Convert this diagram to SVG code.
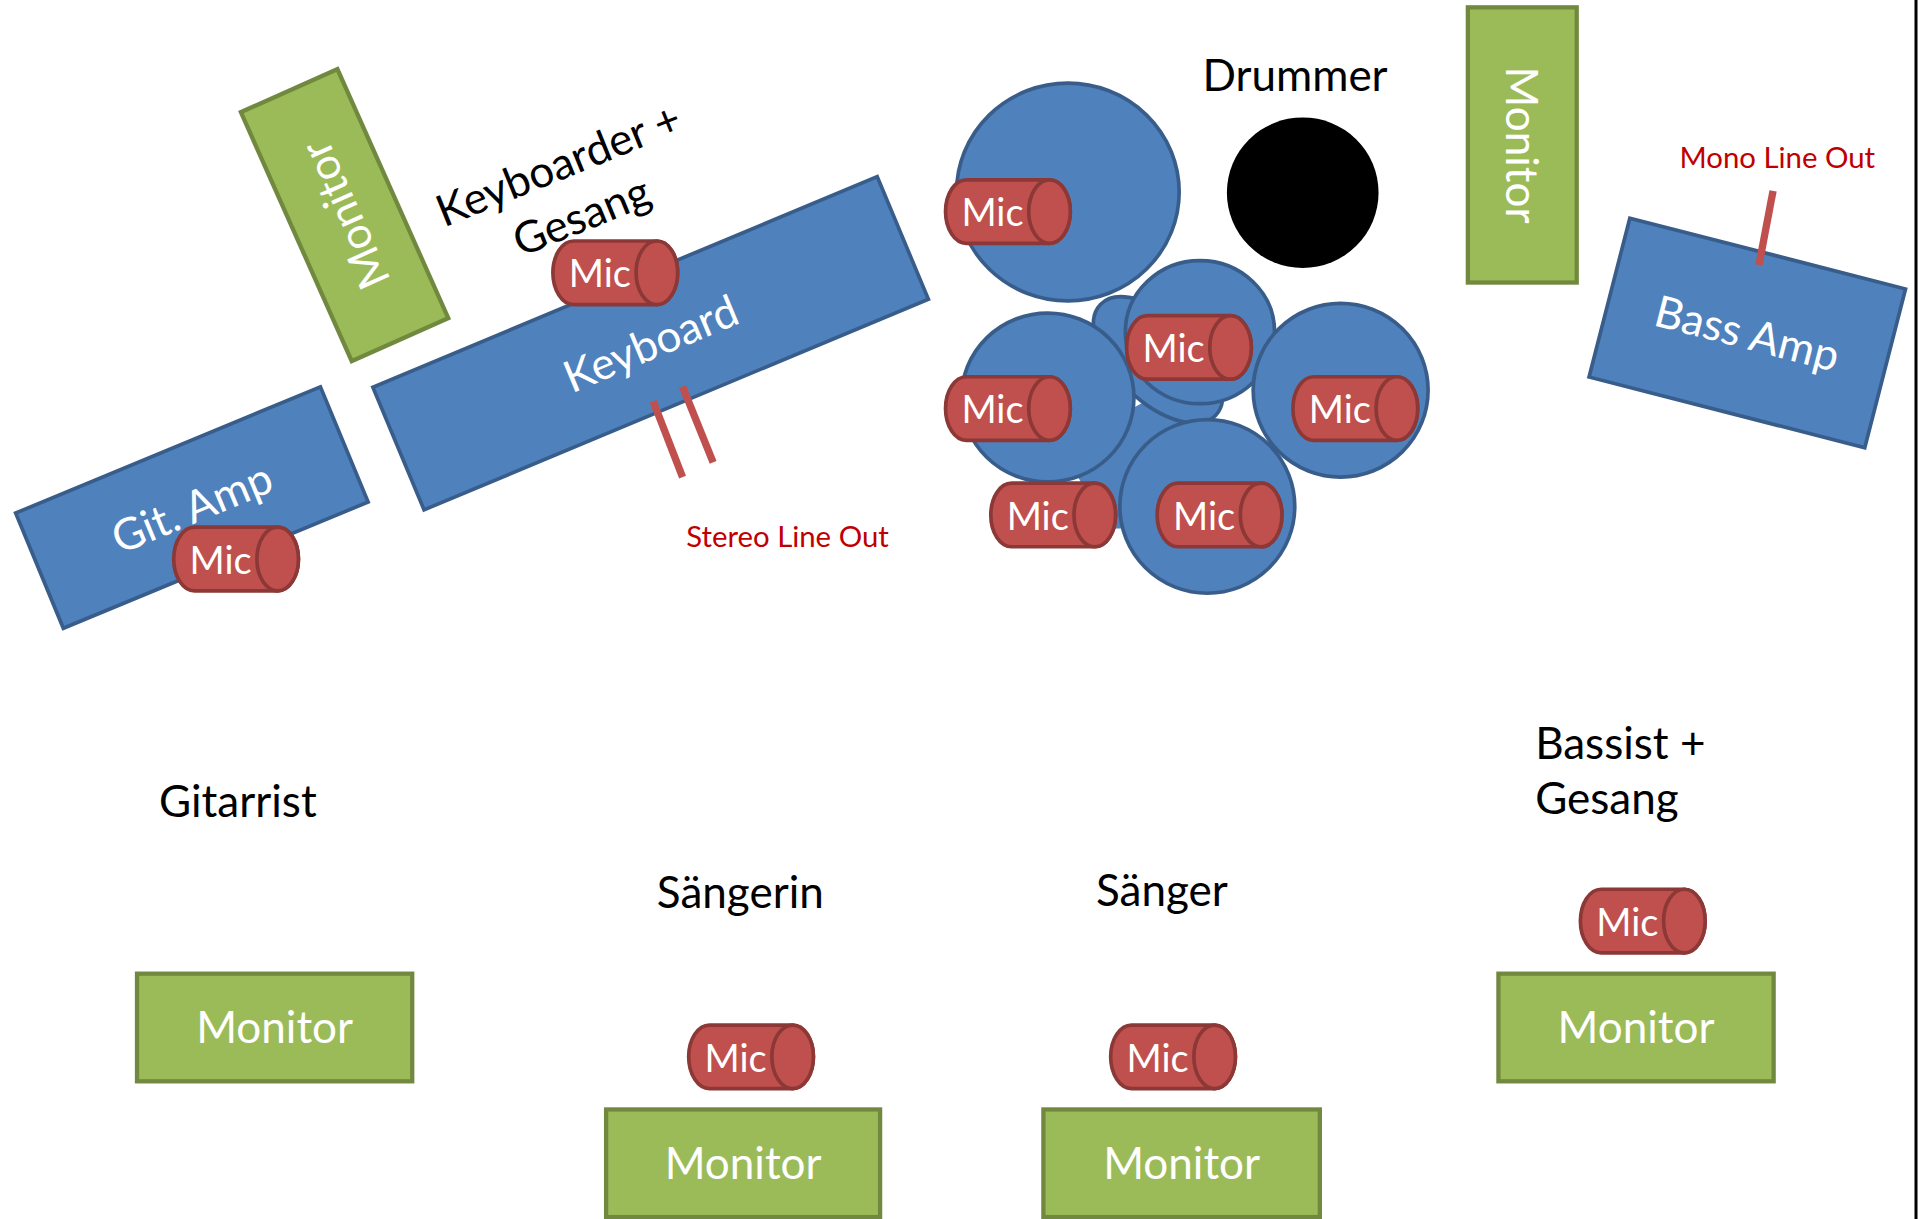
<svg xmlns="http://www.w3.org/2000/svg" xmlns:xlink="http://www.w3.org/1999/xlink" width="1918" height="1219" viewBox="0 0 1918 1219">
<style>
.blue{fill:#4F81BD;stroke:#385D8A;stroke-width:3}
.green{fill:#9BBB59;stroke:#71893F;stroke-width:3.5}
.mic{fill:#C0504D;stroke:#8C3836;stroke-width:3}
.drumfill{fill:#4F81BD;stroke:none}
.blk{fill:#000}
text{font-family:Lato,"Liberation Sans",sans-serif}
.wt{fill:#fff;font-size:36px}
.bt{fill:#000;font-size:36px}
.mt{fill:#fff;font-size:31px}
.rt{fill:#C00000;font-size:24px}
.out{stroke:#C0504D;stroke-width:6;fill:none}
</style>
<defs>
<path id="micshape" class="mic" d="M17,0 H85 A17,26 0 0 1 85,52 H17 A17,26 0 0 1 17,0 Z"/>
<ellipse id="miccap" class="mic" cx="85" cy="26" rx="17" ry="26"/>
</defs>
<rect x="0" y="0" width="1918" height="1219" fill="#fff"/>
<g transform="scale(1.22321)">
  <g id="monitor-keys">
    <g transform="translate(281.7,175.9) rotate(-24)">
      <rect class="green" x="-43.2" y="-111.4" width="86.4" height="222.8"/>
      <text class="wt" transform="rotate(-90)" x="0" y="13" text-anchor="middle">Monitor</text>
    </g>
  </g>
  <g id="label-keyboarder">
    <g transform="translate(363,186) rotate(-22)">
      <text class="bt" x="0" y="0">Keyboarder +</text>
      <text class="bt" x="49" y="46">Gesang</text>
    </g>
  </g>
  <g id="keyboard">
    <g transform="translate(531.9,280.6) rotate(-22.66)">
      <rect class="blue" x="-223.4" y="-54.3" width="446.8" height="108.6"/>
      <text class="wt" x="0" y="13" text-anchor="middle">Keyboard</text>
    </g>
  </g>
  <g id="git-amp">
    <g transform="translate(156.8,414.9) rotate(-22.5)">
      <rect class="blue" x="-134.8" y="-50.9" width="269.7" height="101.9"/>
      <text class="wt" x="0" y="13" text-anchor="middle">Git. Amp</text>
    </g>
  </g>
  <g id="drums">
    <polygon class="drumfill" points="870,370 924,335 950,320 975,345 950,405 925,432 905,432"/>
    <ellipse class="blue" cx="946.7" cy="294.3" rx="65.4" ry="34.3" transform="rotate(44 946.7 294.3)"/>
    <ellipse class="blue" cx="873" cy="157" rx="91" ry="89"/>
    <ellipse class="blk" cx="1065" cy="157.5" rx="62" ry="61.5"/>
    <ellipse class="blue" cx="981" cy="271.5" rx="61" ry="58.5"/>
    <ellipse class="blue" cx="856.5" cy="325" rx="70.5" ry="69"/>
    <ellipse class="blue" cx="1096" cy="319" rx="71.5" ry="71"/>
    <ellipse class="blue" cx="987" cy="414" rx="71.5" ry="71"/>
  </g>
  <g id="label-drummer"><text class="bt" x="983" y="74">Drummer</text></g>
  <g id="monitor-drums">
    <rect class="green" x="1200" y="6" width="89" height="225"/>
    <text class="wt" transform="translate(1244.5,118.5) rotate(90)" x="0" y="13" text-anchor="middle">Monitor</text>
  </g>
  <g id="bass-amp">
    <g transform="translate(1428.4,272.2) rotate(14.4)">
      <rect class="blue" x="-116.3" y="-67" width="232.7" height="134"/>
      <text class="wt" x="0" y="13" text-anchor="middle">Bass Amp</text>
    </g>
  </g>
  <g id="connectors">
    <line class="out" x1="534" y1="328" x2="558" y2="390"/>
    <line class="out" x1="558" y1="316" x2="583" y2="378"/>
    <line class="out" x1="1449.5" y1="156" x2="1438" y2="216.6"/>
  </g>
  <g id="label-stereo"><text class="rt" x="561" y="447">Stereo Line Out</text></g>
  <g id="label-mono"><text class="rt" x="1373" y="137.6">Mono Line Out</text></g>
  <g id="mic-keys" transform="translate(452,197)"><use xlink:href="#micshape"/><use xlink:href="#miccap"/><text class="mt" x="13" y="38">Mic</text></g>
  <g id="mic-git" transform="translate(142,431)"><use xlink:href="#micshape"/><use xlink:href="#miccap"/><text class="mt" x="13" y="38">Mic</text></g>
  <g id="mic-drum1" transform="translate(773,147)"><use xlink:href="#micshape"/><use xlink:href="#miccap"/><text class="mt" x="13" y="38">Mic</text></g>
  <g id="mic-drum2" transform="translate(921,258)"><use xlink:href="#micshape"/><use xlink:href="#miccap"/><text class="mt" x="13" y="38">Mic</text></g>
  <g id="mic-drum3" transform="translate(773,308)"><use xlink:href="#micshape"/><use xlink:href="#miccap"/><text class="mt" x="13" y="38">Mic</text></g>
  <g id="mic-drum4" transform="translate(1057,308)"><use xlink:href="#micshape"/><use xlink:href="#miccap"/><text class="mt" x="13" y="38">Mic</text></g>
  <g id="mic-drum5" transform="translate(810,395)"><use xlink:href="#micshape"/><use xlink:href="#miccap"/><text class="mt" x="13" y="38">Mic</text></g>
  <g id="mic-drum6" transform="translate(946,395)"><use xlink:href="#micshape"/><use xlink:href="#miccap"/><text class="mt" x="13" y="38">Mic</text></g>
  <g id="label-gitarrist"><text class="bt" x="130" y="668">Gitarrist</text></g>
  <g id="monitor-git"><rect class="green" x="112" y="796" width="225" height="88"/><text class="wt" x="224.5" y="852.5" text-anchor="middle">Monitor</text></g>
  <g id="label-saengerin"><text class="bt" x="537" y="742">Sängerin</text></g>
  <g id="mic-saengerin" transform="translate(563,838)"><use xlink:href="#micshape"/><use xlink:href="#miccap"/><text class="mt" x="13" y="38">Mic</text></g>
  <g id="monitor-saengerin"><rect class="green" x="495.5" y="907" width="224" height="88"/><text class="wt" x="607.5" y="963.5" text-anchor="middle">Monitor</text></g>
  <g id="label-saenger"><text class="bt" x="896" y="741">Sänger</text></g>
  <g id="mic-saenger" transform="translate(908,838)"><use xlink:href="#micshape"/><use xlink:href="#miccap"/><text class="mt" x="13" y="38">Mic</text></g>
  <g id="monitor-saenger"><rect class="green" x="853" y="907" width="226" height="88"/><text class="wt" x="966" y="963.5" text-anchor="middle">Monitor</text></g>
  <g id="label-bassist"><text class="bt" x="1255" y="620.5">Bassist +</text><text class="bt" x="1255" y="665.5">Gesang</text></g>
  <g id="mic-bassist" transform="translate(1292,727)"><use xlink:href="#micshape"/><use xlink:href="#miccap"/><text class="mt" x="13" y="38">Mic</text></g>
  <g id="monitor-bassist"><rect class="green" x="1225" y="796" width="225" height="88"/><text class="wt" x="1337.5" y="852.5" text-anchor="middle">Monitor</text></g>
</g>
<line x1="1916" y1="0" x2="1916" y2="1219" stroke="#000" stroke-width="3"/>
</svg>
